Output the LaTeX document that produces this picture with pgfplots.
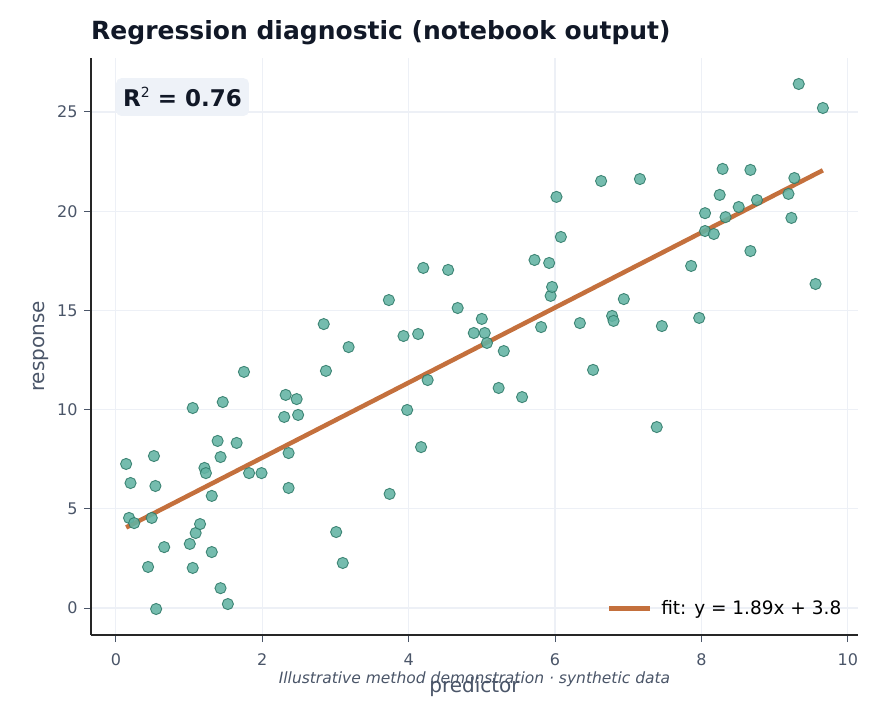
\documentclass[border=0pt]{standalone}
\usepackage{pgfplots}
\pgfplotsset{compat=1.18}
\usepackage{fontspec}
\setmainfont{DejaVu Sans}
\definecolor{pt}{HTML}{62B3A3}
\definecolor{ptedge}{HTML}{2F7A69}
\definecolor{fitc}{HTML}{C4703D}
\definecolor{gridc}{HTML}{EDF0F6}
\definecolor{tickc}{HTML}{4A5568}
\definecolor{titlec}{HTML}{111827}
\definecolor{boxc}{HTML}{EEF2F8}
\begin{document}
\begin{tikzpicture}
\begin{axis}[
  scale only axis, width=767pt, height=577pt,
  xmin=-0.34, xmax=10.14, ymin=-1.36, ymax=27.72,
  axis lines=left, axis line style={-, line width=1.6pt, draw=black!85},
  xtick={0,2,...,10}, ytick={0,5,...,25},
  tick align=outside, major tick length=7pt,
  tick style={line width=1pt, draw=tickc},
  grid=major, grid style={line width=1.2pt, draw=gridc},
  ticklabel style={font=\fontsize{16}{19}\selectfont, text=tickc},
  xticklabel style={yshift=-8pt},
  yticklabel style={xshift=-3pt},
  /pgf/number format/assume math mode=true,
  clip=false,
  title={Regression diagnostic (notebook output)},
  title style={at={(axis description cs:0,1)}, anchor=base west, yshift=12pt,
    font=\bfseries\fontsize{25}{29}\selectfont, text=titlec, inner sep=0pt},
  legend style={at={(axis description cs:0.985,0.025)}, anchor=south east,
    draw=none, fill=none, font=\fontsize{18.5}{22}\selectfont},
  legend cell align=left,
  legend image code/.code={\draw[#1] (0pt,0pt) -- (41pt,0pt); \path (48pt,0pt);},
]
\addplot[only marks, mark=*, mark size=5.6pt,
  mark options={fill=pt, draw=ptedge, line width=0.9pt, opacity=0.88}, forget plot]
table {
x y
0.14 7.26
0.20 6.30
0.18 4.54
0.25 4.28
0.44 2.07
0.49 4.54
0.52 7.66
0.54 6.15
0.55 -0.05
0.66 3.07
1.05 10.08
1.01 3.23
1.05 2.02
1.09 3.78
1.15 4.23
1.21 7.06
1.23 6.80
1.31 2.82
1.31 5.65
1.39 8.42
1.43 7.61
1.43 1.00
1.46 10.38
1.53 0.20
1.65 8.32
1.75 11.90
1.82 6.80
1.99 6.80
2.30 9.63
2.32 10.74
2.36 7.81
2.36 6.05
2.47 10.53
2.49 9.73
2.84 14.31
2.87 11.95
3.01 3.83
3.10 2.27
3.18 13.15
3.73 15.52
3.74 5.75
3.93 13.71
3.98 9.98
4.13 13.81
4.17 8.11
4.20 17.14
4.26 11.49
4.54 17.04
4.67 15.12
4.89 13.86
5.00 14.57
5.04 13.86
5.07 13.36
5.23 11.09
5.30 12.95
5.55 10.63
5.72 17.54
5.81 14.16
5.92 17.39
5.94 15.73
5.96 16.18
6.02 20.72
6.08 18.70
6.34 14.36
6.52 12.00
6.63 21.52
6.78 14.72
6.80 14.47
6.94 15.57
7.16 21.62
7.39 9.12
7.46 14.21
7.86 17.24
7.97 14.62
8.05 19.90
8.05 19.00
8.17 18.85
8.25 20.82
8.29 22.13
8.33 19.70
8.51 20.21
8.67 22.08
8.67 17.99
8.76 20.56
9.19 20.87
9.23 19.66
9.27 21.67
9.33 26.41
9.56 16.33
9.66 25.20
};
\addplot[fitc, line width=4.5pt] coordinates {(0.14,4.06) (9.66,22.06)};
\addlegendentry{fit: y = 1.89x + 3.8}
\end{axis}
\node[anchor=north west, fill=boxc, rounded corners=5pt, inner xsep=7pt, inner ysep=9pt,
  font=\bfseries\fontsize{23}{27}\selectfont, text=titlec]
  at ([xshift=25pt,yshift=-20pt]current axis.north west)
  {R\raisebox{9pt}{\mdseries\fontsize{14}{14}\selectfont 2} = 0.76};
\node[anchor=base, font=\fontsize{20}{24}\selectfont, text=tickc]
  at ([yshift=-57pt]current axis.south) {predictor};
\node[rotate=90, anchor=base, font=\fontsize{20}{24}\selectfont, text=tickc]
  at ([xshift=-46pt]current axis.west) {response};
\node[anchor=base, font=\itshape\fontsize{15.5}{18}\selectfont, text=tickc]
  at ([yshift=-48pt]current axis.south) {Illustrative method demonstration · synthetic data};
\pgfresetboundingbox
\path ([shift={(-91pt,-88pt)}]current axis.south west) rectangle ([shift={(27pt,58pt)}]current axis.north east);
\end{tikzpicture}
\end{document}
